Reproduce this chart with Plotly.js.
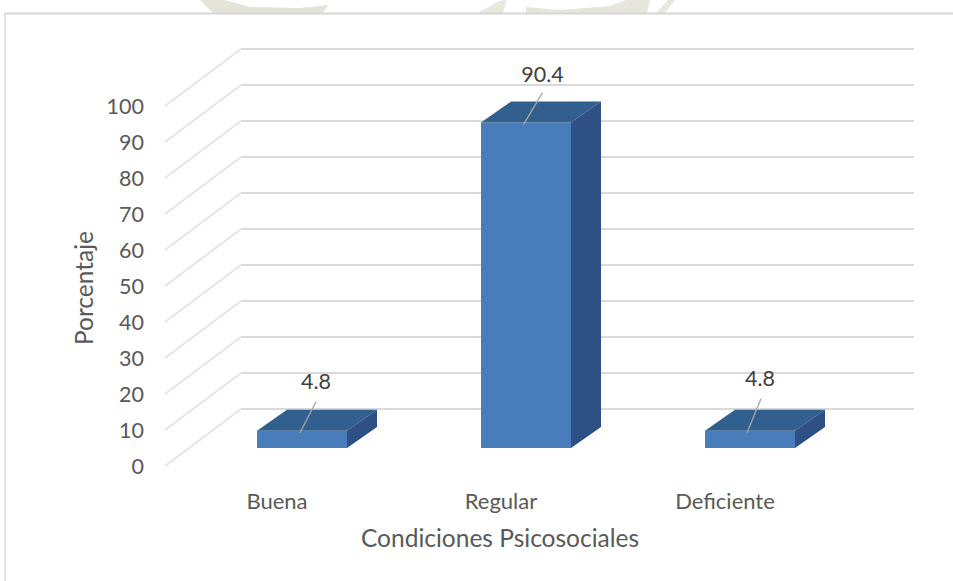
<!DOCTYPE html>
<html><head><meta charset="utf-8">
<script src="https://cdn.plot.ly/plotly-3.0.1.min.js"></script>
<style>html,body{margin:0;padding:0;background:#fff}</style></head>
<body><div id="chart" style="width:953px;height:581px"></div>
<script>
const categories = ['Buena', 'Regular', 'Deficiente'];
const percentages = [4.8, 90.4, 4.8];
const valueLabels = ['4.8', '90.4', '4.8'];
const yTicks = [0, 10, 20, 30, 40, 50, 60, 70, 80, 90, 100];
const indices = categories.map((_, i) => i);

// frame geometry
const W = 953, H = 581, L = 145, R = 940, T = 30, B = 466;
const xUnit = 224, yUnit = 3.6, x0px = 277;
const px = v => v / xUnit, py = v => v / yUnit;

// pseudo-3D offsets, in axis units
const wallDx = px(76), wallDy = py(57), plotW = R - L;
const barShift = px(25), barW = px(90), barDx = px(30), barDy = py(21), floor = py(18);
const labelDx = [px(14), px(16.5), px(10)], labelDy = [py(47), py(46), py(50)];
const leadA = [[px(-2), py(-2)], [px(-2.5), py(-2)], [px(-3), py(-2)]];
const leadB = [[px(14), py(29)], [px(16.5), py(30)], [px(11), py(32)]];

const xLeft = -px(112);
const FONT = 'Lato';
const shapes = [];
yTicks.forEach(t => {
  shapes.push({type:'line', layer:'below', xref:'x', yref:'y', x0:xLeft, y0:t, x1:xLeft+wallDx, y1:t+wallDy, line:{color:'#e4e4e4', width:2}});
  shapes.push({type:'line', layer:'below', xref:'x', yref:'y', x0:xLeft+wallDx, y0:t+wallDy, x1:xLeft+wallDx+px(673), y1:t+wallDy, line:{color:'#dadada', width:2}});
});
// outer chart frame
const bx = p => (p - L) / plotW, by = p => (B - p) / (B - T);
const poly = pts => 'M' + pts.map(p => bx(p[0]) + ',' + by(p[1])).join('L') + 'Z';
// fragments of the page watermark above the chart
[
  [[[200,0],[213,13],[323,13],[328,5],[300,8],[250,7],[225,0]], '#e4e4d9'],
  [[[477,13],[500,1],[507,0],[503,13]], '#e8e8df'],
  [[[526,13],[526,7],[560,10],[610,6],[626,0],[650,0],[647,13]], '#e6e6dc'],
  [[[656,13],[668,0],[675,0],[665,13]], '#e8e8df']
].forEach(w => shapes.push({type:'path', layer:'below', xref:'paper', yref:'paper', path:poly(w[0]), fillcolor:w[1], line:{width:0}}));
shapes.push({type:'line', xref:'paper', yref:'paper', x0:bx(5), x1:bx(953), y0:by(13.5), y1:by(13.5), line:{color:'#d6d6d6', width:2}});
shapes.push({type:'line', xref:'paper', yref:'paper', x0:bx(5), x1:bx(5), y0:by(13), y1:by(581), line:{color:'#d9d9d9', width:1.5}});

const faceX = i => i + barShift - barW / 2;
const traces = [];
traces.push({type:'bar', x:indices.map(i => i + barShift), y:percentages, base:indices.map(() => floor),
  width:barW, marker:{color:'#487cbb', line:{width:0}}, hoverinfo:'skip', showlegend:false});
indices.forEach(i => {
  const a = faceX(i), b = a + barW, top = floor + percentages[i];
  traces.push({type:'scatter', mode:'lines', fill:'toself', fillcolor:'#31608f', line:{width:0},
    x:[a, a+barDx, b+barDx, b, a], y:[top, top+barDy, top+barDy, top, top], hoverinfo:'skip', showlegend:false});
  traces.push({type:'scatter', mode:'lines', fill:'toself', fillcolor:'#2e5084', line:{width:0},
    x:[b, b+barDx, b+barDx, b, b], y:[top, top+barDy, floor+barDy, floor, top], hoverinfo:'skip', showlegend:false});
  traces.push({type:'scatter', mode:'lines', line:{color:'#a6a6a6', width:1.3},
    x:[i+barShift+leadA[i][0], i+barShift+leadB[i][0]], y:[top+leadA[i][1], top+leadB[i][1]], hoverinfo:'skip', showlegend:false});
});
traces.push({type:'scatter', mode:'text', x:indices.map(i => i+barShift+labelDx[i]),
  y:indices.map(i => floor+percentages[i]+labelDy[i]), text:valueLabels, textposition:'middle center',
  textfont:{family:FONT, size:21.5, color:'#404040'}, hoverinfo:'skip', showlegend:false, cliponaxis:false});

const layout = {
  width:W, height:H, margin:{l:L, r:W-R, t:T, b:H-B, pad:0}, paper_bgcolor:'#fff', plot_bgcolor:'rgba(0,0,0,0)',
  showlegend:false, shapes,
  xaxis:{range:[(L-x0px)/xUnit, (R-x0px)/xUnit], tickmode:'array', tickvals:indices, ticktext:categories,
    showgrid:false, zeroline:false, showline:false, ticks:'', ticklabelstandoff:20, automargin:false,
    tickfont:{family:FONT, size:22, color:'#595959'}},
  yaxis:{range:[0, (B-T)/yUnit], tickmode:'array', tickvals:yTicks, showgrid:false, zeroline:false, showline:false,
    ticks:'', automargin:false, tickfont:{family:FONT, size:21.5, color:'#595959'}},
  annotations:[
    {text:'Porcentaje', xref:'paper', yref:'paper', x:bx(83), y:by(288), showarrow:false, textangle:-90,
     xanchor:'center', yanchor:'middle', font:{family:FONT, size:24.5, color:'#595959'}},
    {text:'Condiciones Psicosociales', xref:'paper', yref:'paper', x:bx(500), y:by(537), showarrow:false,
     xanchor:'center', yanchor:'middle', font:{family:FONT, size:24.5, color:'#595959'}}
  ]
};
Plotly.newPlot('chart', traces, layout, {displayModeBar:false, staticPlot:true});
</script></body></html>
